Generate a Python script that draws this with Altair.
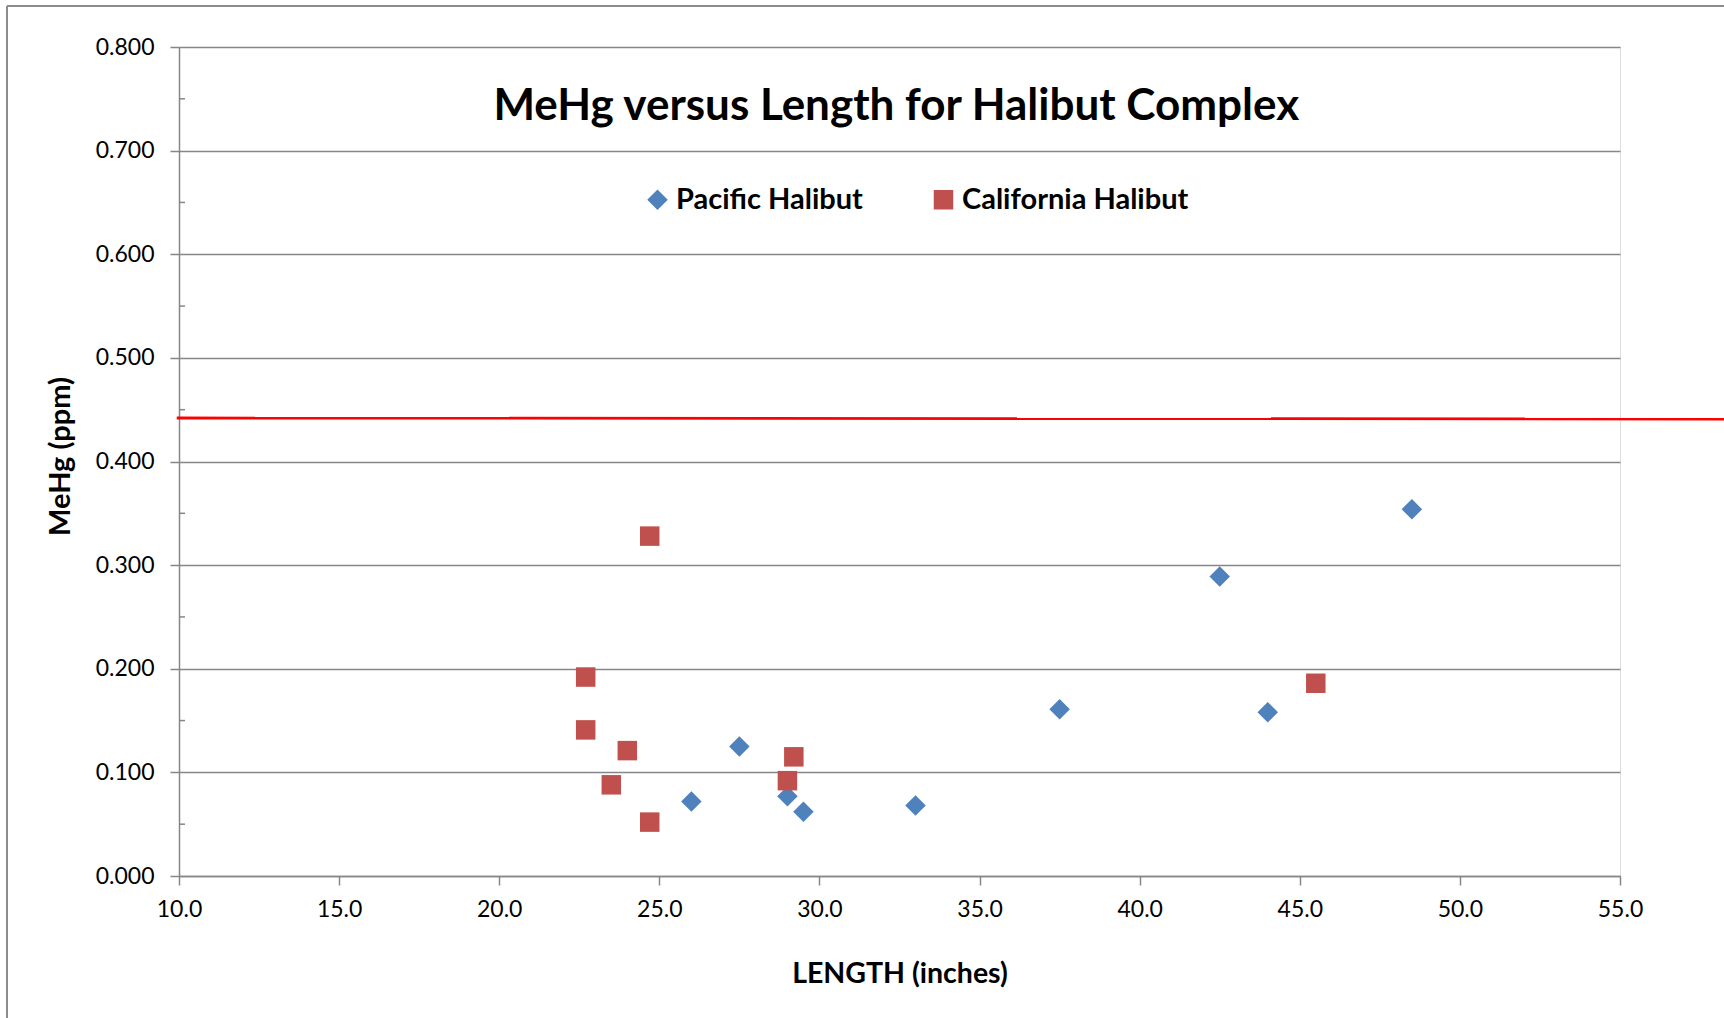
import altair as alt
import pandas as pd

pac_len = [26.0, 27.5, 29.0, 29.5, 33.0, 37.5, 42.5, 44.0, 48.5]
pac_hg = [0.072, 0.125, 0.077, 0.062, 0.068, 0.161, 0.289, 0.158, 0.354]
cal_len = [24.7, 22.7, 22.7, 24.0, 23.5, 24.7, 29.2, 29.0, 45.5]
cal_hg = [0.328, 0.192, 0.141, 0.121, 0.088, 0.052, 0.115, 0.092, 0.186]
series = ["Pacific Halibut", "California Halibut"]
colors = ["#4F81BD", "#C0504D"]
shapes = ["diamond", "square"]
sizes = [420, 380]
x_ticks = [10, 15, 20, 25, 30, 35, 40, 45, 50, 55]
y_ticks = [0.0, 0.1, 0.2, 0.3, 0.4, 0.5, 0.6, 0.7, 0.8]
y_minor = [0.05, 0.15, 0.25, 0.35, 0.45, 0.55, 0.65, 0.75]
limit_x = [9.93, 58.3]
limit_y = [0.442, 0.441]
title_text = ["MeHg versus Length for Halibut Complex"]
title_pos = [32.4, 0.742]

df = pd.DataFrame({
    "len": pac_len + cal_len,
    "hg": pac_hg + cal_hg,
    "species": [series[0]] * len(pac_len) + [series[1]] * len(cal_len),
})
lim = pd.DataFrame({"x": [limit_x[0]], "x2": [limit_x[1]], "y": [limit_y[0]], "y2": [limit_y[1]]})
minor = pd.DataFrame({"y": y_minor})
ttl = pd.DataFrame({"t": title_text, "x": [title_pos[0]], "y": [title_pos[1]]})

FONT = "Lato"
GRID = "#868686"

xscale = alt.Scale(domain=[10, 55], nice=False, zero=False)
yscale = alt.Scale(domain=[0, 0.8], nice=False)

leg = alt.Legend(title=None, orient="none", direction="horizontal",
                 legendX=464, legendY=138, padding=0,
                 columnPadding=66, labelLimit=500,
                 labelOffset=4,
                 labelFont=FONT, labelFontSize=29,
                 labelFontWeight="bold", labelColor="#000000")

points = alt.Chart(df).mark_point(filled=True, opacity=1).encode(
    x=alt.X("len:Q", scale=xscale,
            axis=alt.Axis(values=x_ticks, format=".1f", title="LENGTH (inches)",
                          grid=False, tickSize=9, tickColor=GRID, tickWidth=1.5,
                          domainColor=GRID, domainWidth=1.5, labelFlush=False,
                          labelFont=FONT, labelFontSize=23, labelColor="#000000",
                          labelPadding=13,
                          titleFont=FONT, titleFontSize=28.5, titleFontWeight="bold",
                          titleColor="#000000", titleY=97, titleBaseline="middle")),
    y=alt.Y("hg:Q", scale=yscale,
            axis=alt.Axis(values=y_ticks, format=".3f", title="MeHg (ppm)",
                          grid=True, gridColor=GRID, gridWidth=1.5,
                          tickSize=9, tickColor=GRID, tickWidth=1.5,
                          domainColor=GRID, domainWidth=1.5,
                          labelFont=FONT, labelFontSize=23, labelColor="#000000",
                          labelPadding=16,
                          titleFont=FONT, titleFontSize=29, titleFontWeight="bold",
                          titleColor="#000000", titleX=-119, titleY=409,
                          titleBaseline="middle")),
    color=alt.Color("species:N", scale=alt.Scale(domain=series, range=colors), legend=leg),
    shape=alt.Shape("species:N", scale=alt.Scale(domain=series, range=shapes), legend=leg),
    size=alt.Size("species:N", scale=alt.Scale(domain=series, range=sizes), legend=leg),
)

minor_ticks = alt.Chart(minor).mark_rule(color=GRID, strokeWidth=1.5).encode(
    y=alt.Y("y:Q", scale=yscale),
    x=alt.value(0), x2=alt.value(6),
)

limit_line = alt.Chart(lim).mark_rule(color="#FF0000", strokeWidth=2.8).encode(
    x=alt.X("x:Q", scale=xscale), x2="x2:Q",
    y=alt.Y("y:Q", scale=yscale), y2="y2:Q",
)

title_mark = alt.Chart(ttl).mark_text(font=FONT, fontSize=44, fontWeight="bold",
                                      color="#000000", align="center",
                                      baseline="middle").encode(
    x=alt.X("x:Q", scale=xscale), y=alt.Y("y:Q", scale=yscale), text="t:N",
)

border_left = alt.Chart(minor).mark_rule(color="#8c8c8c", strokeWidth=1.5).encode(
    x=alt.value(-172), y=alt.value(-41), y2=alt.value(1000),
)
border_top = alt.Chart(minor).mark_rule(color="#8c8c8c", strokeWidth=1.5).encode(
    x=alt.value(-172), x2=alt.value(1600), y=alt.value(-41),
)

chart = alt.layer(border_left, border_top, minor_ticks, limit_line, title_mark, points).properties(
    width=1441, height=829,
    autosize=alt.AutoSizeParams(type="none"),
    padding={"left": 179, "top": 47, "right": 104, "bottom": 142},
).configure_view(stroke=None).configure(background="white")

chart.save("out.html", embed_options={"renderer": "svg", "actions": False})
